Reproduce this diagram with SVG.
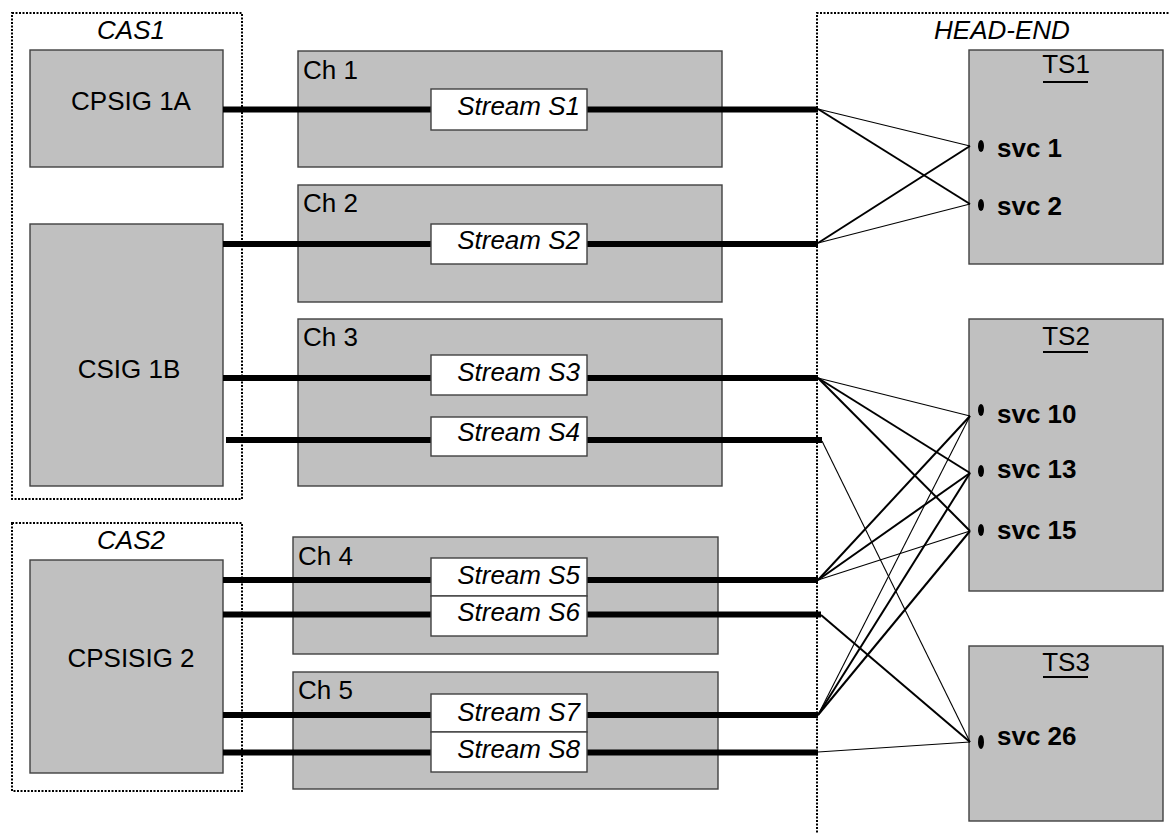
<svg xmlns="http://www.w3.org/2000/svg" width="1170" height="834" viewBox="0 0 1170 834">
<style>
.bg{fill:#ffffff}
.grp{fill:none;stroke:#000;stroke-width:2;stroke-dasharray:2 1.5}
.box{fill:#c0c0c0;stroke:#404040;stroke-width:1.4}
.sbox{fill:#ffffff;stroke:#404040;stroke-width:1.4}
.t{font-family:"Liberation Sans",Arial,sans-serif;font-size:26px;fill:#000}
.it{font-style:italic}
.b{font-weight:bold}
.mid{text-anchor:middle}
.end{text-anchor:end}
.pipe{stroke:#000;stroke-width:6;fill:none}
.thin{stroke:#000;stroke-width:1.1;fill:none}
.thick{stroke:#000;stroke-width:2;fill:none}
.ul{stroke:#000;stroke-width:2}
</style>
<rect class="bg" x="0" y="0" width="1170" height="834"/>

<g id="CAS1">
<rect class="grp" x="12" y="13" width="230" height="486"/>
<text class="t it mid" x="131" y="39">CAS1</text>
</g>
<g id="CAS2">
<rect class="grp" x="12" y="523" width="230" height="268"/>
<text class="t it mid" x="131" y="549">CAS2</text>
</g>
<g id="HEAD-END">
<path class="grp" d="M1172,13 H817 V836"/>
<text class="t it mid" x="1002" y="39">HEAD-END</text>
</g>

<g id="CPSIG1A">
<rect class="box" x="30" y="50" width="193" height="117"/>
<text class="t mid" x="131" y="110">CPSIG 1A</text>
</g>
<g id="CSIG1B">
<rect class="box" x="30" y="224" width="193" height="262"/>
<text class="t mid" x="129" y="378">CSIG 1B</text>
</g>
<g id="CPSISIG2">
<rect class="box" x="30" y="560" width="193" height="213"/>
<text class="t mid" x="131" y="667">CPSISIG 2</text>
</g>

<g id="Ch1">
<rect class="box" x="298" y="51" width="424" height="116"/>
<text class="t" x="303" y="79">Ch 1</text>
</g>
<g id="Ch2">
<rect class="box" x="298" y="185" width="424" height="117"/>
<text class="t" x="303" y="212">Ch 2</text>
</g>
<g id="Ch3">
<rect class="box" x="298" y="319" width="424" height="167"/>
<text class="t" x="303" y="346">Ch 3</text>
</g>
<g id="Ch4">
<rect class="box" x="293" y="537" width="425" height="117"/>
<text class="t" x="298" y="565">Ch 4</text>
</g>
<g id="Ch5">
<rect class="box" x="293" y="672" width="425" height="117"/>
<text class="t" x="298" y="699">Ch 5</text>
</g>

<g id="pipes">
<line class="pipe" x1="223" y1="109.5" x2="818" y2="109.5"/>
<line class="pipe" x1="223" y1="244" x2="818" y2="244"/>
<line class="pipe" x1="223" y1="378" x2="818" y2="378"/>
<line class="pipe" x1="226" y1="440" x2="822" y2="440"/>
<line class="pipe" x1="223" y1="580" x2="818" y2="580"/>
<line class="pipe" x1="223" y1="614.5" x2="821" y2="614.5"/>
<line class="pipe" x1="223" y1="715" x2="818" y2="715"/>
<line class="pipe" x1="223" y1="752.5" x2="818" y2="752.5"/>
</g>

<g id="S1"><rect class="sbox" x="431" y="89" width="156" height="41"/><text class="t it end" x="580" y="115">Stream S1</text></g>
<g id="S2"><rect class="sbox" x="431" y="224" width="156" height="40"/><text class="t it end" x="580" y="249">Stream S2</text></g>
<g id="S3"><rect class="sbox" x="431" y="355" width="156" height="40"/><text class="t it end" x="580" y="381">Stream S3</text></g>
<g id="S4"><rect class="sbox" x="431" y="417" width="156" height="39"/><text class="t it end" x="580" y="441">Stream S4</text></g>
<g id="S5"><rect class="sbox" x="431" y="558" width="156" height="38"/><text class="t it end" x="580" y="584">Stream S5</text></g>
<g id="S6"><rect class="sbox" x="431" y="596" width="156" height="40"/><text class="t it end" x="580" y="621">Stream S6</text></g>
<g id="S7"><rect class="sbox" x="431" y="694" width="156" height="38"/><text class="t it end" x="580" y="721">Stream S7</text></g>
<g id="S8"><rect class="sbox" x="431" y="732" width="156" height="40"/><text class="t it end" x="580" y="758">Stream S8</text></g>

<g id="TS1">
<rect class="box" x="969" y="50" width="194" height="214"/>
<text class="t mid" x="1066" y="73">TS1</text>
<line class="ul" x1="1043" y1="82" x2="1088" y2="82"/>
<ellipse cx="981" cy="146" rx="3" ry="6"/>
<text class="t b" x="997" y="157">svc 1</text>
<ellipse cx="981" cy="205" rx="3" ry="6"/>
<text class="t b" x="997" y="215">svc 2</text>
</g>
<g id="TS2">
<rect class="box" x="969" y="319" width="194" height="272"/>
<text class="t mid" x="1066" y="345">TS2</text>
<line class="ul" x1="1043" y1="352" x2="1088" y2="352"/>
<ellipse cx="981" cy="410" rx="3" ry="6"/>
<text class="t b" x="997" y="423">svc 10</text>
<ellipse cx="981" cy="471" rx="3" ry="6"/>
<text class="t b" x="997" y="478">svc 13</text>
<ellipse cx="981" cy="530" rx="3" ry="6"/>
<text class="t b" x="997" y="539">svc 15</text>
</g>
<g id="TS3">
<rect class="box" x="969" y="646" width="194" height="175"/>
<text class="t mid" x="1066" y="671">TS3</text>
<line class="ul" x1="1043" y1="677" x2="1088" y2="677"/>
<ellipse cx="981" cy="742" rx="3" ry="7"/>
<text class="t b" x="997" y="745">svc 26</text>
</g>

<g id="connectors">
<line class="thin" x1="818" y1="109" x2="970" y2="146"/>
<line class="thick" x1="818" y1="109" x2="970" y2="204"/>
<line class="thick" x1="818" y1="243" x2="970" y2="146"/>
<line class="thin" x1="818" y1="243" x2="970" y2="204"/>
<line class="thin" x1="818" y1="378" x2="970" y2="416"/>
<line class="thick" x1="818" y1="378" x2="970" y2="473"/>
<line class="thick" x1="818" y1="378" x2="970" y2="531"/>
<line class="thin" x1="822" y1="441" x2="970" y2="742"/>
<line class="thick" x1="818" y1="580" x2="970" y2="416"/>
<line class="thick" x1="818" y1="580" x2="970" y2="473"/>
<line class="thin" x1="818" y1="580" x2="970" y2="531"/>
<line class="thick" x1="821" y1="615" x2="970" y2="742"/>
<line class="thin" x1="818" y1="715" x2="970" y2="416"/>
<line class="thick" x1="818" y1="715" x2="970" y2="473"/>
<line class="thick" x1="818" y1="715" x2="970" y2="531"/>
<line class="thin" x1="818" y1="752" x2="970" y2="742"/>
</g>
</svg>
